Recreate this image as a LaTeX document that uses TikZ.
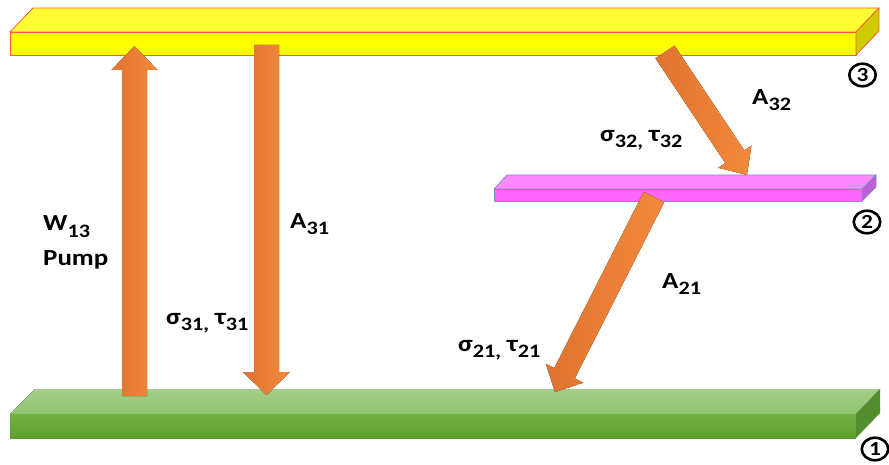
\documentclass[tikz,border=0pt]{standalone}
\usepackage{fontspec}
\usepackage{graphicx}
\setmainfont{Carlito}
\usetikzlibrary{calc,shapes.geometric}
\definecolor{orA}{HTML}{E07330}
\definecolor{orB}{HTML}{F28A3C}
\definecolor{yTop}{HTML}{FFFF33}
\definecolor{yFront}{HTML}{FFFF00}
\definecolor{ySide}{HTML}{CCCC00}
\definecolor{yEdge}{HTML}{FF5A3C}
\definecolor{mTop}{HTML}{FF88FF}
\definecolor{mFront}{HTML}{FF66FF}
\definecolor{mSide}{HTML}{C060D8}
\definecolor{mEdge}{HTML}{7A93BD}
\definecolor{gTopA}{HTML}{A3CE88}
\definecolor{gTopB}{HTML}{8FC36F}
\definecolor{gFrontA}{HTML}{74B145}
\definecolor{gFrontB}{HTML}{5E9E2E}
\definecolor{gSide}{HTML}{528D2E}
\newcommand\stx[1]{\scalebox{1.17}[1]{#1}}
\newcommand\sbs[1]{\raisebox{-6pt}{\fontsize{19}{19}\selectfont #1}}
\newcommand\fatarrow[5]{%
  \coordinate (fabase) at ($(#2)!#5pt!(#1)$);
  \fill[arrowshade] ($(#1)!#3pt!90:(#2)$) -- ($(fabase)!#3pt!90:(#2)$)
    -- ($(fabase)!#4pt!90:(#2)$) -- (#2) -- ($(fabase)!#4pt!-90:(#2)$)
    -- ($(fabase)!#3pt!-90:(#2)$) -- ($(#1)!#3pt!-90:(#2)$) -- cycle;}
\tikzset{
  arrowshade/.style={left color=orA, right color=orB},
  lbl/.style={font=\fontsize{23}{35}\selectfont\bfseries, inner sep=0pt, anchor=base west},
  numc/.style={ellipse, draw, line width=2.6pt, minimum width=26.5pt, minimum height=22.5pt,
    inner sep=0pt, font=\fontsize{20}{20}\selectfont\bfseries},
  yedge/.style={draw=yEdge, line width=0.8pt, line join=round},
  medge/.style={draw=mEdge, line width=0.8pt, line join=round}
}
\begin{document}
\begin{tikzpicture}[x=1pt,y=-1pt]
\useasboundingbox (0,0) rectangle (889,465);
% level 1 (green)
\fill[top color=gTopA, bottom color=gTopB] (10,414) -- (35,389) -- (880,389) -- (856,414) -- cycle;
\fill[top color=gFrontA, bottom color=gFrontB] (10,414) rectangle (856,438);
\fill[gSide] (856,414) -- (880,389) -- (880,413) -- (856,438) -- cycle;
% level 2 (magenta)
\filldraw[fill=mTop, medge] (494,189) -- (507,175) -- (876,175) -- (862,189) -- cycle;
\filldraw[fill=mFront, medge] (494,189) rectangle (862,201);
\filldraw[fill=mSide, medge] (862,189) -- (876,175) -- (876,187) -- (862,201) -- cycle;
% level 3 (yellow)
\filldraw[fill=yTop, yedge] (10,32) -- (33,8) -- (879,8) -- (856,32) -- cycle;
\filldraw[fill=yFront, yedge] (10,32) rectangle (856,55);
\filldraw[fill=ySide, yedge] (856,32) -- (879,8) -- (879,31) -- (856,55) -- cycle;
% arrow end points
\coordinate (pumpS) at (134.5,396);
\coordinate (pumpE) at (134.5,46);
\coordinate (a31S) at (266.5,45);
\coordinate (a31E) at (266.5,395);
\coordinate (a32S) at (665,52);
\coordinate (a32E) at (747,175);
\coordinate (a21S) at (654,197);
\coordinate (a21E) at (555,392);
\fatarrow{pumpS}{pumpE}{12.5}{23}{24}
\fatarrow{a31S}{a31E}{12.5}{23.5}{23}
\fatarrow{a32S}{a32E}{11.5}{20}{22}
\fatarrow{a21S}{a21E}{11.5}{21}{21}
% labels
\node[lbl] (tW) at (43,231) {\stx{\vtop{\hbox{W\sbs{13}}\hbox{Pump}}}};
\node[lbl] (tA31) at (290,229) {\stx{A\sbs{31}}};
\node[lbl] (tS31) at (166,324) {\stx{σ\sbs{31,} τ\sbs{31}}};
\node[lbl] (tA32) at (752,105) {\stx{A\sbs{32}}};
\node[lbl] (tS32) at (600,142) {\stx{σ\sbs{32,} τ\sbs{32}}};
\node[lbl] (tA21) at (662,288) {\stx{A\sbs{21}}};
\node[lbl] (tS21) at (458,351) {\stx{σ\sbs{21,} τ\sbs{21}}};
% level numbers
\node[numc] (n3) at (862.5,75) {\stx{3}};
\node[numc] (n2) at (867,222) {\stx{2}};
\node[numc] (n1) at (875,449) {\stx{1}};
\end{tikzpicture}
\end{document}
